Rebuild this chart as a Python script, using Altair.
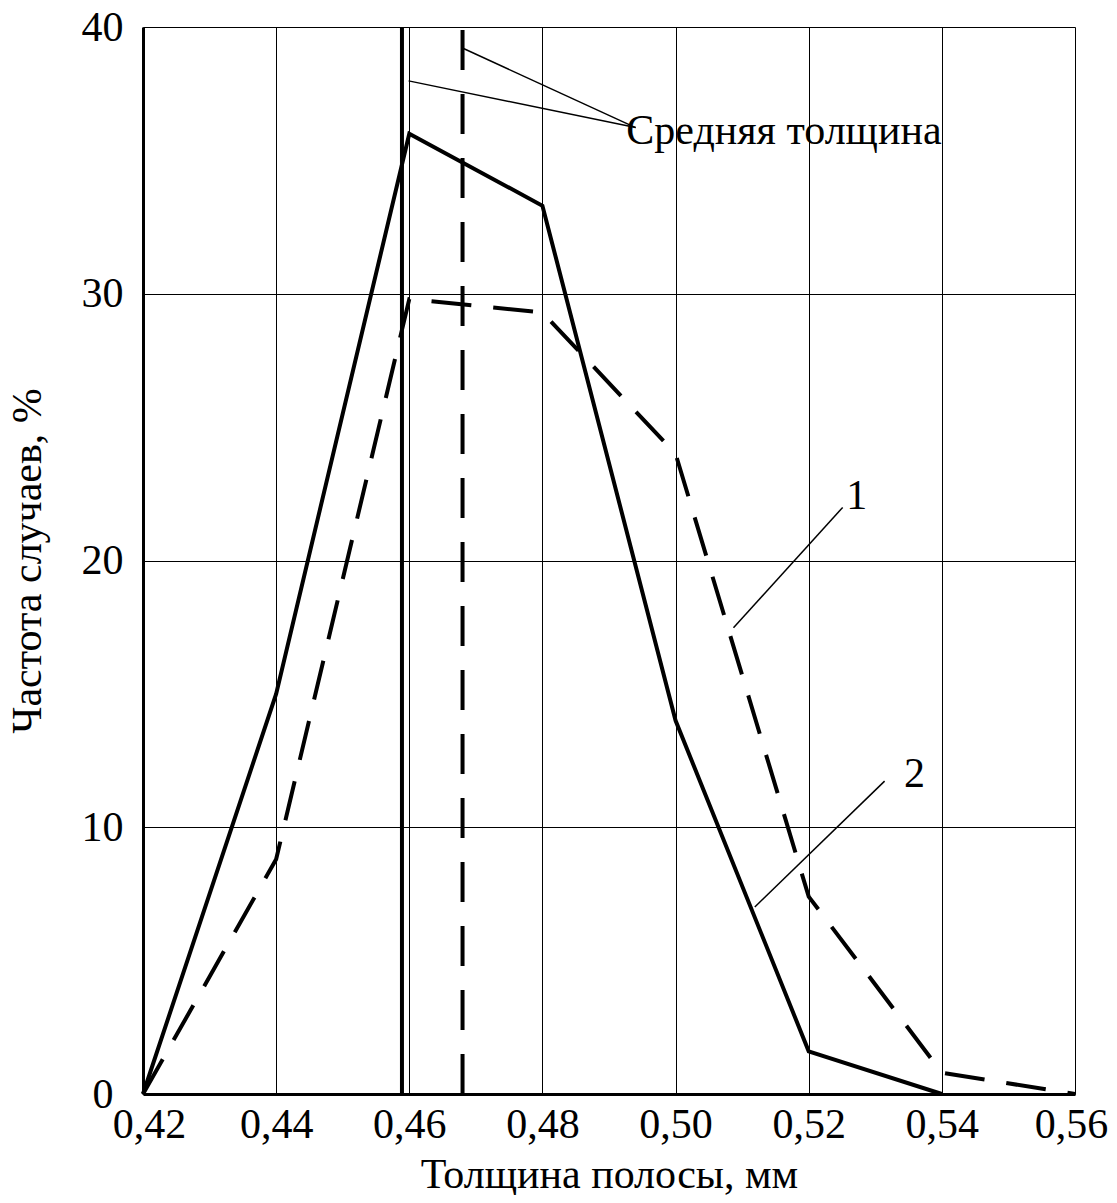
import altair as alt
import pandas as pd

# Curve 1 (dashed) and curve 2 (solid)
x1 = [0.42, 0.44, 0.46, 0.48, 0.50, 0.52, 0.54, 0.56]
y1 = [0.0, 8.8, 29.8, 29.3, 24.0, 7.4, 0.8, 0.0]
x2 = [0.42, 0.44, 0.46, 0.48, 0.50, 0.52, 0.54]
y2 = [0.0, 15.0, 36.0, 33.3, 14.0, 1.6, 0.0]

# mean thickness lines
mean_solid = 0.4589
mean_dashed = 0.468

x_ticks = [0.42, 0.44, 0.46, 0.48, 0.50, 0.52, 0.54, 0.56]
y_ticks = [0, 10, 20, 30, 40]

# annotations
ann_text = ["Средняя толщина", "1", "2"]
ann_x = [0.4926, 0.5272, 0.5359]
ann_y = [36.1, 22.4, 12.0]

lead_x = [0.4940, 0.4940, 0.5251, 0.5314]
lead_y = [36.23, 36.23, 21.99, 11.73]
lead_x2 = [0.4599, 0.4679, 0.5087, 0.5119]
lead_y2 = [37.98, 39.22, 17.48, 7.01]

FONT = "Liberation Serif"
FS = 42

xs = alt.Scale(domain=[0.42, 0.56], nice=False, zero=False)
ys = alt.Scale(domain=[0, 40], nice=False)

df1 = pd.DataFrame({"x": x1, "y": y1})
df2 = pd.DataFrame({"x": x2, "y": y2})

base_axes = alt.Chart(pd.DataFrame({"x": [0.42], "y": [0]})).mark_point(opacity=0).encode(
    x=alt.X("x:Q", scale=xs,
            axis=alt.Axis(title="Толщина полосы, мм", values=x_ticks,
                          labelExpr="replace(format(datum.value, '.2f'), '.', ',')",
                          grid=True, gridColor="black", gridWidth=1, gridOpacity=1,
                          tickSize=0, labelPadding=10, titlePadding=9,
                          labelOffset={"condition": [
                              {"test": "datum.value < 0.425", "value": 6},
                              {"test": "datum.value > 0.555", "value": -4}],
                              "value": 0},
                          domainColor="black", domainWidth=3,
                          labelFont=FONT, labelFontSize=FS, labelColor="black",
                          titleFont=FONT, titleFontSize=FS, titleFontWeight="normal",
                          titleColor="black", labelFlush=False)),
    y=alt.Y("y:Q", scale=ys,
            axis=alt.Axis(title="Частота случаев, %", values=y_ticks,
                          grid=True, gridColor="black", gridWidth=1, gridOpacity=1,
                          tickSize=0, titlePadding=32,
                          labelPadding={"condition": {"test": "datum.value === 0", "value": 30},
                                        "value": 20},
                          domainColor="black", domainWidth=3,
                          labelFont=FONT, labelFontSize=FS, labelColor="black",
                          titleFont=FONT, titleFontSize=FS, titleFontWeight="normal",
                          titleColor="black", labelFlush=False)),
)

line1 = alt.Chart(df1).mark_line(color="black", strokeWidth=4, strokeDash=[40, 22]).encode(
    x=alt.X("x:Q", scale=xs), y=alt.Y("y:Q", scale=ys))
line2 = alt.Chart(df2).mark_line(color="black", strokeWidth=4).encode(
    x=alt.X("x:Q", scale=xs), y=alt.Y("y:Q", scale=ys))

vsolid = alt.Chart(pd.DataFrame({"x": [mean_solid], "y": [0], "y2": [40]})).mark_rule(
    color="black", strokeWidth=4).encode(
    x=alt.X("x:Q", scale=xs), y=alt.Y("y:Q", scale=ys), y2="y2:Q")
vdash = alt.Chart(pd.DataFrame({"x": [mean_dashed], "y": [0], "y2": [40]})).mark_rule(
    color="black", strokeWidth=4, strokeDash=[40, 24]).encode(
    x=alt.X("x:Q", scale=xs), y=alt.Y("y:Q", scale=ys), y2="y2:Q")

leaders = alt.Chart(pd.DataFrame({"x": lead_x, "y": lead_y, "x2": lead_x2, "y2": lead_y2})).mark_rule(
    color="black", strokeWidth=1.5).encode(
    x=alt.X("x:Q", scale=xs), y=alt.Y("y:Q", scale=ys), x2="x2:Q", y2="y2:Q")

ann_df = pd.DataFrame({"t": ann_text, "x": ann_x, "y": ann_y})
txt_main = alt.Chart(ann_df.iloc[:1]).mark_text(
    font=FONT, fontSize=FS, align="left", baseline="middle", color="black").encode(
    x=alt.X("x:Q", scale=xs), y=alt.Y("y:Q", scale=ys), text="t:N")
txt_nums = alt.Chart(ann_df.iloc[1:]).mark_text(
    font=FONT, fontSize=FS, align="center", baseline="middle", color="black").encode(
    x=alt.X("x:Q", scale=xs), y=alt.Y("y:Q", scale=ys), text="t:N")

chart = alt.layer(base_axes, vsolid, vdash, line2, line1, leaders, txt_main, txt_nums).properties(
    width=932, height=1067,
    autosize=alt.AutoSizeParams(type="none"),
    padding={"left": 135, "top": 19, "right": 34, "bottom": 101},
).configure_view(stroke="black", strokeWidth=1.5).configure(background="white")

chart.save("out.html", embed_options={"renderer": "svg", "actions": False})
